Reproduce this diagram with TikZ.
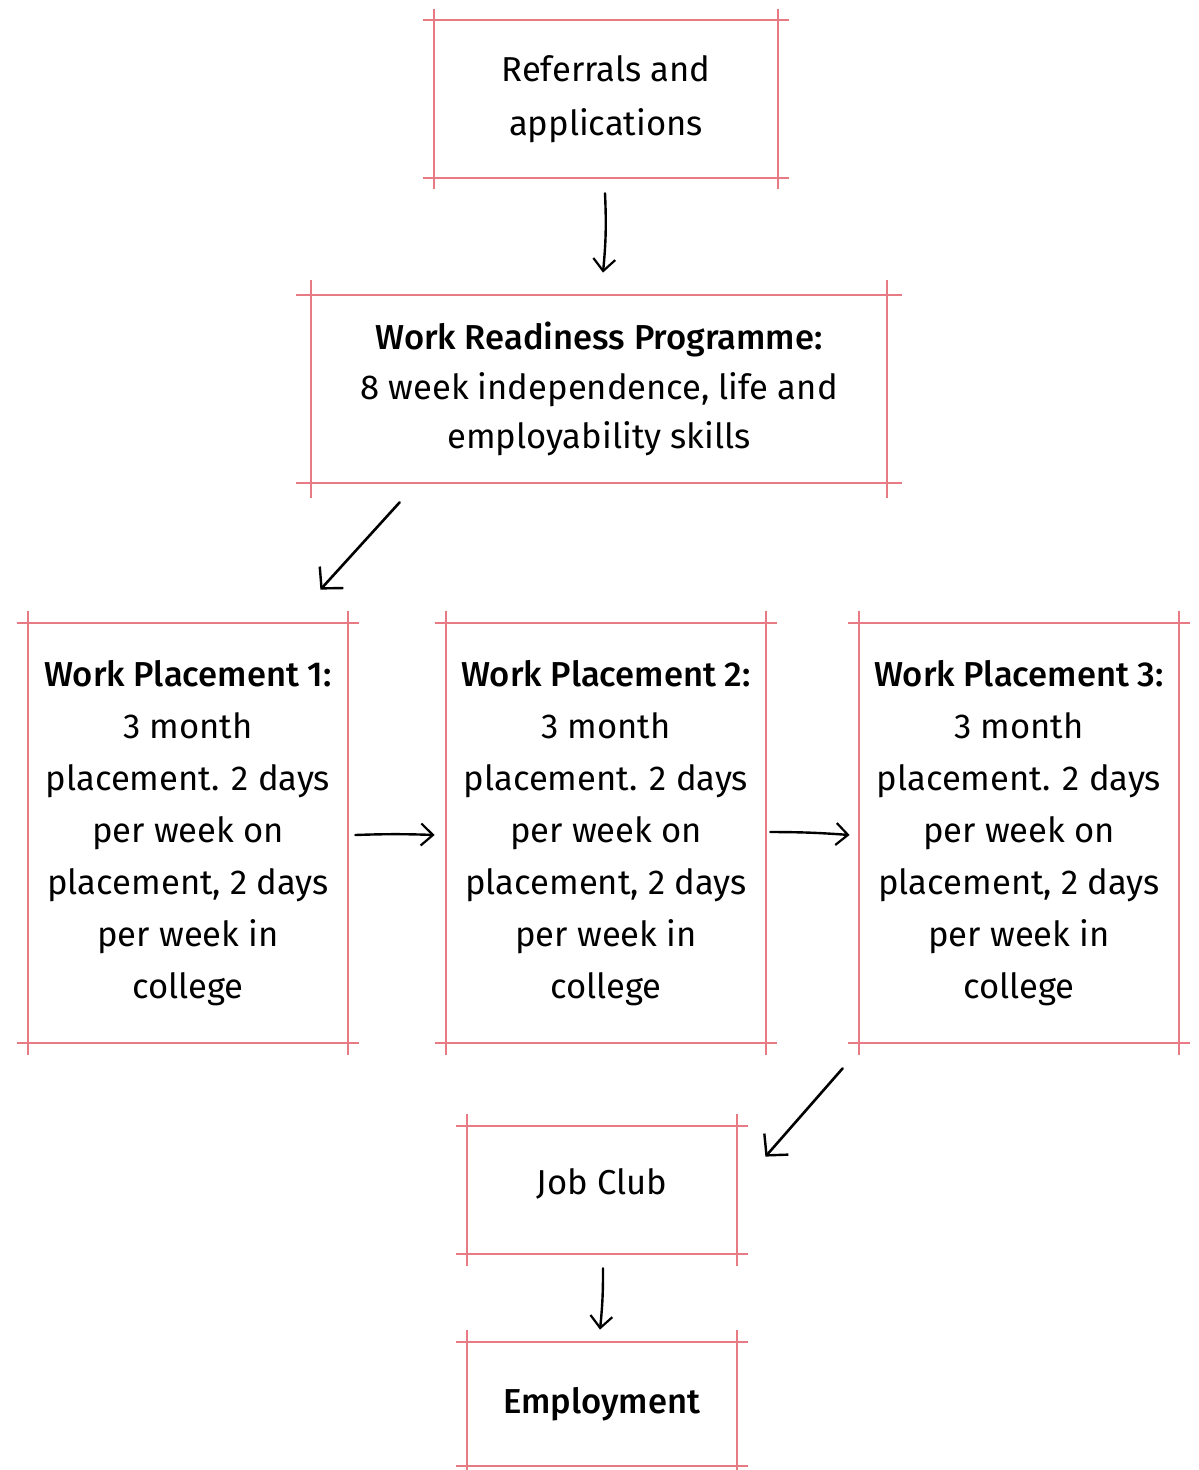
\documentclass[tikz,border=0pt]{standalone}
\usepackage{fontspec}
\setmainfont{Fira Sans}[BoldFont={Fira Sans Medium}]
\usetikzlibrary{calc,arrows.meta}
\definecolor{framered}{RGB}{232,122,132}
\tikzset{
  frame/.style={draw=framered,line width=1pt},
  blk/.style={draw=none,inner sep=0pt,align=center,font=\fontsize{17.3}{26}\selectfont},
  flow/.style={draw=black,line width=1.2pt,line cap=round,-{Straight Barb[length=6pt,width=11pt,line width=1.1pt]}},
  bigflow/.style={draw=black,line width=1.3pt,line cap=round,-{Straight Barb[length=7.5pt,width=16pt,line width=1.2pt]}}
}
\newcommand\sketchframe[3]{%
  \draw[frame] ($(#1.north west)+(-#2,0)$) -- ($(#1.north east)+(#2,0)$);
  \draw[frame] ($(#1.south west)+(-#2,0)$) -- ($(#1.south east)+(#2,0)$);
  \draw[frame] ($(#1.north west)+(0,-#3)$) -- ($(#1.south west)+(0,#3)$);
  \draw[frame] ($(#1.north east)+(0,-#3)$) -- ($(#1.south east)+(0,#3)$);
}
\begin{document}
\begin{tikzpicture}[x=0.5pt,y=-0.5pt]
\useasboundingbox (0,0) rectangle (1198,1470);
\node[blk,minimum width=172pt,minimum height=79pt,font=\fontsize{17.3}{27}\selectfont] (r1) at (606,99) {\raisebox{-1.2pt}{Referrals and}\\\raisebox{-1.2pt}{applications}};
\node[blk,minimum width=288pt,minimum height=94pt,font=\fontsize{17.3}{24.8}\selectfont] (wrp) at (599,389)
  {\textbf{Work Readiness Programme:}\\8 week independence, life and\\employability skills};
\node[blk,minimum width=160pt,minimum height=210pt] (wp1) at (188,833)
  {\textbf{Work Placement 1:}\\3 month\\placement. 2 days\\per week on\\placement, 2 days\\per week in\\college};
\node[blk,minimum width=160pt,minimum height=210pt] (wp2) at (606,833)
  {\textbf{Work Placement 2:}\\3 month\\placement. 2 days\\per week on\\placement, 2 days\\per week in\\college};
\node[blk,minimum width=160pt,minimum height=210pt] (wp3) at (1019,833)
  {\textbf{Work Placement 3:}\\3 month\\placement. 2 days\\per week on\\placement, 2 days\\per week in\\college};
\node[blk,minimum width=135pt,minimum height=64pt] (jc) at (602,1190) {\raisebox{8pt}{Job Club}};
\node[blk,minimum width=135pt,minimum height=62pt] (emp) at (602,1404) {\raisebox{1pt}{\textbf{Employment}}};

\sketchframe{r1}{11}{11}
\sketchframe{wrp}{15}{15}
\sketchframe{wp1}{11}{12}
\sketchframe{wp2}{11}{12}
\sketchframe{wp3}{11}{12}
\sketchframe{jc}{11}{12}
\sketchframe{emp}{11}{12}

\draw[flow] ($(r1.south)+(-1,15)$) to[bend left=4] ($(wrp.north)+(4,-22)$);
\draw[bigflow] ($(wrp.south west)+(89,19)$) -- ($(wp1.north east)+(-28,-33)$);
\draw[flow] ($(wp1.east)+(7,2)$) to[bend left=2] ($(wp2.west)+(-11,2)$);
\draw[flow] ($(wp2.east)+(4,-1)$) to[bend left=2] ($(wp3.west)+(-9,2)$);
\draw[bigflow] ($(wp3.south west)+(-16,25)$) -- ($(jc.north east)+(28,31)$);
\draw[flow] ($(jc.south)+(1,14)$) to[bend left=3] ($(emp.north)+(-2,-12)$);
\end{tikzpicture}
\end{document}
